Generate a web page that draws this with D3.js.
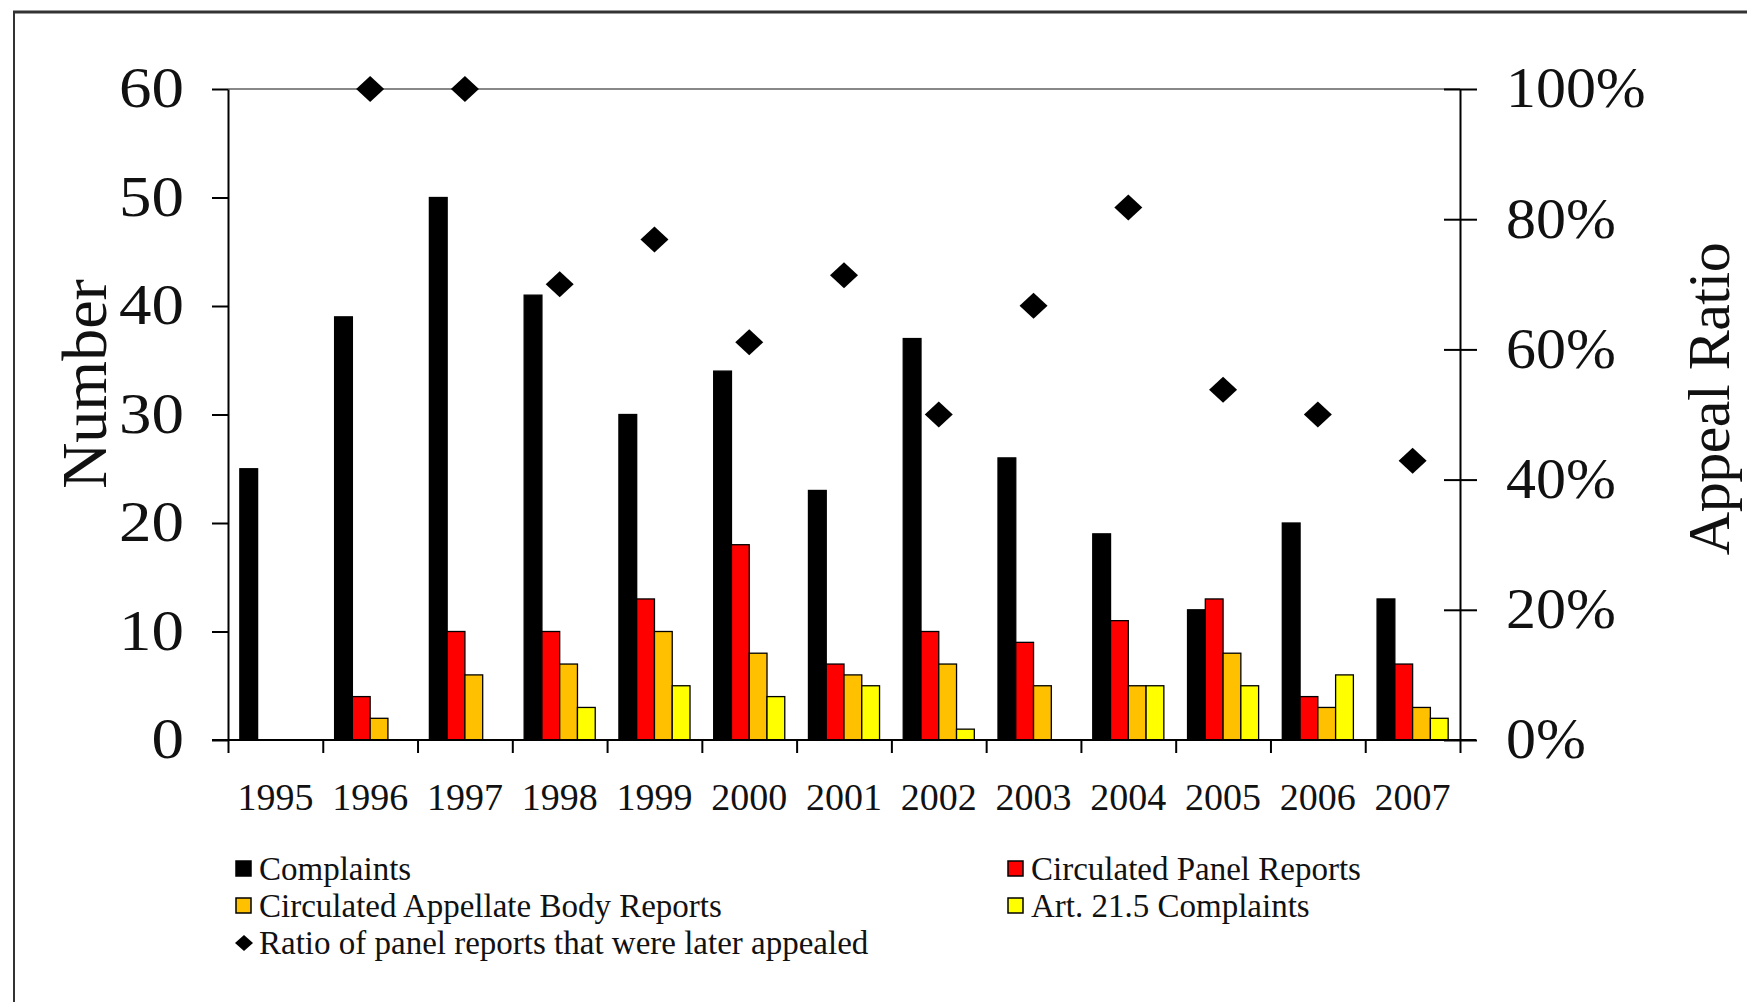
<!DOCTYPE html>
<html>
<head>
<meta charset="utf-8">
<script src="https://cdn.jsdelivr.net/npm/d3@7"></script>
<style>
  body { margin: 0; background: #fff; }
  svg { display: block; font-family: "Liberation Serif", "Times New Roman", serif; }
</style>
</head>
<body>
<svg id="chart"></svg>
<script>
let years = ["1995", "1996", "1997", "1998", "1999", "2000", "2001", "2002", "2003", "2004", "2005", "2006", "2007"];

let complaints = [25, 39, 50, 41, 30, 34, 23, 37, 26, 19, 12, 20, 13];
let panelReports = [0, 4, 10, 10, 13, 18, 7, 10, 9, 11, 13, 4, 7];
let appellateReports = [0, 2, 6, 7, 10, 8, 6, 7, 5, 5, 8, 3, 3];
let art215Complaints = [0, 0, 0, 3, 5, 4, 5, 1, 0, 5, 5, 6, 2];
let appealRatio = [null, 1.0, 1.0, 0.70, 0.769, 0.611, 0.714, 0.50, 0.667, 0.818, 0.538, 0.50, 0.429];

let seriesNames = ["Complaints", "Circulated Panel Reports", "Circulated Appellate Body Reports", "Art. 21.5 Complaints"];
let seriesColors = ["#000000", "#ff0000", "#ffc000", "#ffff00"];
let ratioName = "Ratio of panel reports that were later appealed";

let numberTicks = [0, 10, 20, 30, 40, 50, 60];
let ratioTicks = [0, 0.2, 0.4, 0.6, 0.8, 1.0];

let width = 1747;
let height = 1002;
let plotLeft = 228;
let plotRight = 1460;
let plotTop = 89;
let plotBottom = 740;

let svg = d3.select("#chart").attr("width", width).attr("height", height);

// frame (title is cut off above the top edge)
svg.append("line").attr("x1", 13).attr("x2", width).attr("y1", 12).attr("y2", 12)
  .attr("stroke", "#333").attr("stroke-width", 3);
svg.append("line").attr("x1", 14).attr("x2", 14).attr("y1", 12).attr("y2", height)
  .attr("stroke", "#333").attr("stroke-width", 2);

let x0 = d3.scaleBand().domain(years).range([plotLeft, plotRight]).paddingInner(0.25).paddingOuter(0.125);
let x1 = d3.scaleBand().domain(d3.range(4)).range([0, x0.bandwidth()]);
let boundary = d3.scaleLinear().domain([0, years.length]).range([plotLeft, plotRight]);
let yNum = d3.scaleLinear().domain([0, 60]).range([plotBottom, plotTop]);
let yRatio = d3.scaleLinear().domain([0, 1]).range([plotBottom, plotTop]);

// top border of plot area
svg.append("line").attr("x1", plotLeft).attr("x2", plotRight).attr("y1", plotTop).attr("y2", plotTop)
  .attr("stroke", "#888").attr("stroke-width", 2);

// bars
let rows = [complaints, panelReports, appellateReports, art215Complaints];
let barData = [];
years.forEach((yr, i) => {
  rows.forEach((row, s) => {
    if (row[i] > 0) barData.push({ year: yr, s: s, v: row[i] });
  });
});

svg.append("g").selectAll("rect")
  .data(barData)
  .enter()
  .append("rect")
  .attr("x", (d) => x0(d.year) + x1(d.s))
  .attr("y", (d) => yNum(d.v))
  .attr("width", x1.bandwidth())
  .attr("height", (d) => yNum(0) - yNum(d.v))
  .attr("fill", (d) => seriesColors[d.s])
  .attr("stroke", "#000")
  .attr("stroke-width", 1.3);

// left axis (labels a bit wider, like the original font)
let yAxis = d3.axisLeft(yNum).tickValues(numberTicks).tickSize(16).tickPadding(28).tickSizeOuter(0);
let gy = svg.append("g").attr("transform", "translate(" + plotLeft + ",0)").call(yAxis);
gy.select(".domain").attr("stroke", "#000").attr("stroke-width", 2);
gy.selectAll(".tick line").attr("stroke", "#000").attr("stroke-width", 2);
gy.selectAll("text")
  .attr("font-size", 56).attr("fill", "#111").attr("font-family", "Liberation Serif")
  .attr("x", -44 / 1.16)
  .attr("transform", "scale(1.16,1)");

// right axis: ticks cross the axis line
let rAxis = d3.axisRight(yRatio).tickValues(ratioTicks).tickSize(17).tickPadding(29).tickSizeOuter(0)
  .tickFormat(d3.format(".0%"));
let gr = svg.append("g").attr("transform", "translate(" + plotRight + ",0)").call(rAxis);
gr.select(".domain").attr("stroke", "#000").attr("stroke-width", 2);
gr.selectAll(".tick line").attr("stroke", "#000").attr("stroke-width", 2);
gr.selectAll("text")
  .attr("font-size", 56).attr("fill", "#111").attr("font-family", "Liberation Serif")
  .attr("x", 46 / 1.07)
  .attr("transform", "scale(1.07,1)");
let rInner = d3.axisLeft(yRatio).tickValues(ratioTicks).tickSize(16).tickFormat("").tickSizeOuter(0);
let gri = svg.append("g").attr("transform", "translate(" + plotRight + ",0)").call(rInner);
gri.select(".domain").remove();
gri.selectAll(".tick line").attr("stroke", "#000").attr("stroke-width", 2);

// bottom axis: ticks at category boundaries
let bAxis = d3.axisBottom(boundary).tickValues(d3.range(years.length + 1)).tickSize(13).tickFormat("").tickSizeOuter(0);
let gb = svg.append("g").attr("transform", "translate(0," + plotBottom + ")").call(bAxis);
gb.select(".domain").remove();
gb.selectAll(".tick line").attr("stroke", "#000").attr("stroke-width", 2);
svg.append("line").attr("x1", plotLeft - 16).attr("x2", plotRight + 16).attr("y1", plotBottom).attr("y2", plotBottom)
  .attr("stroke", "#000").attr("stroke-width", 2);

// year labels
let xAxis = d3.axisBottom(x0).tickSize(0).tickPadding(43);
let gx = svg.append("g").attr("transform", "translate(0," + plotBottom + ")").call(xAxis);
gx.select(".domain").remove();
gx.selectAll("text").attr("font-size", 38).attr("fill", "#111").attr("font-family", "Liberation Serif");

// diamonds
let diamond = "M0,-13L14,0L0,13L-14,0Z";
svg.append("g").selectAll("path")
  .data(years.map((yr, i) => ({ year: yr, v: appealRatio[i] })).filter((d) => d.v !== null))
  .enter()
  .append("path")
  .attr("d", diamond)
  .attr("fill", "#000")
  .attr("transform", (d) => "translate(" + (x0(d.year) + x0.bandwidth() / 2) + "," + yRatio(d.v) + ")");

// axis titles
svg.append("text")
  .attr("transform", "translate(106,384) rotate(-90)")
  .attr("text-anchor", "middle")
  .attr("font-size", 64)
  .attr("fill", "#111")
  .text("Number");

svg.append("text")
  .attr("transform", "translate(1729,399) rotate(-90)")
  .attr("text-anchor", "middle")
  .attr("font-size", 60)
  .attr("letter-spacing", -0.5)
  .attr("fill", "#111")
  .text("Appeal Ratio");

// legend
let legendItems = [
  { name: seriesNames[0], color: seriesColors[0], x: 236, y: 869 },
  { name: seriesNames[1], color: seriesColors[1], x: 1008, y: 869 },
  { name: seriesNames[2], color: seriesColors[2], x: 236, y: 906 },
  { name: seriesNames[3], color: seriesColors[3], x: 1008, y: 906 }
];
let legend = svg.append("g");
legendItems.forEach((item) => {
  legend.append("rect")
    .attr("x", item.x).attr("y", item.y - 8)
    .attr("width", 15).attr("height", 15)
    .attr("fill", item.color).attr("stroke", "#000").attr("stroke-width", 1.5);
  legend.append("text")
    .attr("x", item.x + 23).attr("y", item.y + 11)
    .attr("font-size", 33).attr("fill", "#111")
    .text(item.name);
});
legend.append("path")
  .attr("d", "M0,-8L9,0L0,8L-9,0Z")
  .attr("fill", "#000")
  .attr("transform", "translate(244,943)");
legend.append("text")
  .attr("x", 259).attr("y", 954)
  .attr("font-size", 33).attr("fill", "#111")
  .text(ratioName);
</script>
</body>
</html>
